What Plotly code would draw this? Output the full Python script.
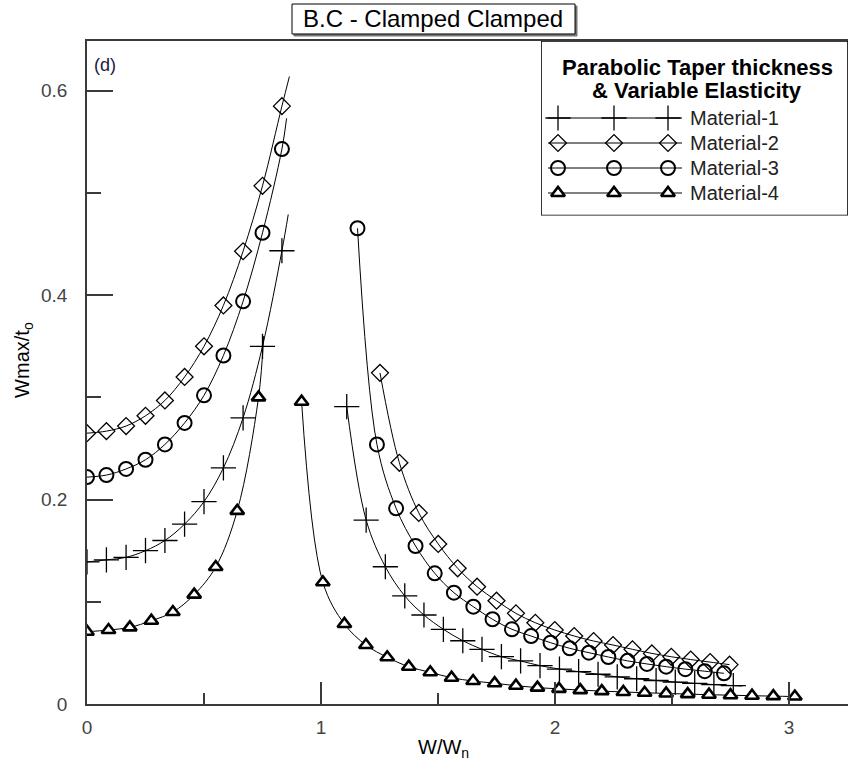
import plotly.graph_objects as go

# ---------------- data: W/Wn vs Wmax/to, clamped-clamped plate ----------------
# Material-1 (+)
m1_left_x = [0.0, 0.083, 0.167, 0.25, 0.333, 0.417, 0.5, 0.583, 0.667, 0.75, 0.833]
m1_left_y = [0.139, 0.141, 0.1435, 0.150, 0.160, 0.176, 0.198, 0.231, 0.280, 0.350, 0.4435]
m1_left_end = (0.860, 0.479)
m1_right_x = [1.110, 1.193, 1.275, 1.358, 1.440, 1.523, 1.606, 1.688, 1.771, 1.853, 1.936,
              2.019, 2.101, 2.184, 2.266, 2.349, 2.432, 2.514, 2.597, 2.679, 2.762]
m1_right_y = [0.291, 0.180, 0.1343, 0.1057, 0.0871, 0.0731, 0.0619, 0.0535, 0.0463, 0.0421, 0.0375,
              0.0342, 0.0316, 0.0291, 0.0265, 0.0247, 0.0230, 0.0215, 0.0202, 0.0190, 0.0180]
m1_right_end = (2.800, 0.0176)

# Material-2 (diamond)
m2_left_x = [0.0, 0.083, 0.167, 0.25, 0.333, 0.417, 0.5, 0.583, 0.667, 0.75, 0.833]
m2_left_y = [0.265, 0.267, 0.272, 0.282, 0.297, 0.320, 0.350, 0.390, 0.443, 0.507, 0.585]
m2_left_end = (0.865, 0.614)
m2_right_x = [1.252, 1.335, 1.418, 1.501, 1.584, 1.667, 1.750, 1.833, 1.916, 1.999,
              2.082, 2.165, 2.248, 2.331, 2.414, 2.497, 2.580, 2.663, 2.746]
m2_right_y = [0.324, 0.236, 0.187, 0.1566, 0.1328, 0.1148, 0.1011, 0.0887, 0.0795, 0.0724,
              0.0665, 0.0616, 0.0577, 0.0535, 0.0495, 0.0462, 0.0435, 0.0410, 0.0385]

# Material-3 (circle)
m3_left_x = [0.0, 0.083, 0.167, 0.25, 0.333, 0.417, 0.5, 0.583, 0.667, 0.75, 0.833]
m3_left_y = [0.222, 0.224, 0.230, 0.239, 0.254, 0.275, 0.302, 0.341, 0.394, 0.461, 0.543]
m3_left_end = (0.853, 0.573)
m3_right_x = [1.156, 1.239, 1.321, 1.404, 1.486, 1.568, 1.651, 1.733, 1.816, 1.898,
              1.981, 2.063, 2.145, 2.228, 2.310, 2.393, 2.475, 2.557, 2.640, 2.722]
m3_right_y = [0.4655, 0.254, 0.1915, 0.1546, 0.1279, 0.1089, 0.0952, 0.0829, 0.0731, 0.0665,
              0.0600, 0.0545, 0.0502, 0.0460, 0.0422, 0.0392, 0.0365, 0.0341, 0.0321, 0.0300]

# Material-4 (triangle)
m4_left_x = [0.0, 0.092, 0.183, 0.275, 0.367, 0.458, 0.550, 0.642, 0.733]
m4_left_y = [0.0707, 0.0724, 0.0750, 0.0815, 0.0900, 0.1070, 0.1340, 0.1890, 0.3000]
m4_left_end = (0.755, 0.360)
m4_right_x = [0.917, 1.008, 1.100, 1.192, 1.283, 1.375, 1.467, 1.558, 1.650, 1.742, 1.833, 1.925,
              2.017, 2.108, 2.200, 2.292, 2.383, 2.475, 2.567, 2.658, 2.750, 2.842, 2.933, 3.025]
m4_right_y = [0.2958, 0.1191, 0.0783, 0.0577, 0.0457, 0.0365, 0.0310, 0.0257, 0.0225, 0.0203,
              0.0179, 0.0160, 0.0148, 0.0136, 0.0126, 0.0118, 0.0110, 0.0103, 0.0097, 0.0091,
              0.0086, 0.0081, 0.0077, 0.0073]

x_major = [0, 1, 2, 3]
x_minor = [0.5, 1.5, 2.5]
y_major = [0, 0.2, 0.4, 0.6]
y_minor = [0.1, 0.3, 0.5]

materials = ["Material-1", "Material-2", "Material-3", "Material-4"]

FONT = "Liberation Sans, Arial, sans-serif"
INK = "#000000"

marker_styles = [
    dict(symbol="cross-thin", size=18, color=INK, line=dict(color=INK, width=1.3)),
    dict(symbol="diamond-open", size=13, color=INK, line=dict(color=INK, width=1.3)),
    dict(symbol="circle-open", size=14, color=INK, line=dict(color=INK, width=2)),
    dict(symbol="triangle-up", size=12, color="white", line=dict(color=INK, width=2.6)),
]

branches = [
    (0, m1_left_x, m1_left_y, m1_left_end),
    (0, m1_right_x, m1_right_y, m1_right_end),
    (1, m2_left_x, m2_left_y, m2_left_end),
    (1, m2_right_x, m2_right_y, None),
    (2, m3_left_x, m3_left_y, m3_left_end),
    (2, m3_right_x, m3_right_y, None),
    (3, m4_left_x, m4_left_y, m4_left_end),
    (3, m4_right_x, m4_right_y, None),
]

fig = go.Figure()

# smooth response curves (lines run a little past the last marker toward resonance)
for idx, bx, by, end in branches:
    lx, ly = list(bx), list(by)
    if end is not None:
        lx.append(end[0])
        ly.append(end[1])
    fig.add_trace(go.Scatter(x=lx, y=ly, mode="lines", showlegend=False, hoverinfo="skip",
                             line=dict(color=INK, width=1, shape="spline", smoothing=1.0)))
for idx, bx, by, end in branches:
    fig.add_trace(go.Scatter(x=bx, y=by, mode="markers", name=materials[idx], showlegend=False,
                             marker=marker_styles[idx]))

# ---------------- legend panel drawn on its own pixel-unit axes ----------------
leg_left, leg_right, leg_bottom, leg_top = 541, 848, 215.5, 41
leg_rows = [118, 143, 168, 193]
leg_line = (548, 682)
leg_marks = [558, 614, 668]
leg_text_x = 688

for i, row in enumerate(leg_rows):
    fig.add_trace(go.Scatter(x=list(leg_line), y=[row, row], mode="lines", xaxis="x2", yaxis="y2",
                             showlegend=False, hoverinfo="skip", line=dict(color=INK, width=1)))
    fig.add_trace(go.Scatter(x=leg_marks, y=[row] * len(leg_marks), mode="markers", xaxis="x2",
                             yaxis="y2", showlegend=False, hoverinfo="skip", marker=marker_styles[i]))

annotations = []
for name, row in zip(materials, leg_rows):
    annotations.append(dict(x=leg_text_x, y=row, xref="x2", yref="y2", text=name, showarrow=False,
                            xanchor="left", yanchor="middle",
                            font=dict(family=FONT, size=20, color="#222")))
annotations.append(dict(x=697, y=67, xref="x2", yref="y2", text="<b>Parabolic Taper thickness</b>",
                        showarrow=False, xanchor="center", yanchor="middle",
                        font=dict(family=FONT, size=22, color=INK)))
annotations.append(dict(x=697, y=90, xref="x2", yref="y2", text="<b>&amp; Variable Elasticity</b>",
                        showarrow=False, xanchor="center", yanchor="middle",
                        font=dict(family=FONT, size=22, color=INK)))

# chart title inside a framed box with a drop shadow
annotations.append(dict(x=0.4553, y=1.0332, xref="paper", yref="paper", text="B.C - Clamped Clamped",
                        showarrow=False, xanchor="center", yanchor="middle",
                        font=dict(family=FONT, size=24, color=INK)))

annotations.append(dict(x=0.0236, y=0.964, xref="paper", yref="paper", text="(d)", showarrow=False,
                        xanchor="center", yanchor="middle",
                        font=dict(family=FONT, size=18, color="#202040")))
annotations.append(dict(x=-0.0828, y=0.519, xref="paper", yref="paper", text="Wmax/t<sub>o</sub>",
                        showarrow=False, textangle=-90, xanchor="center", yanchor="middle",
                        font=dict(family=FONT, size=20, color=INK)))
annotations.append(dict(x=0.468, y=-0.0664, xref="paper", yref="paper", text="W/W<sub>n</sub>",
                        showarrow=False, xanchor="center", yanchor="middle",
                        font=dict(family=FONT, size=20, color=INK)))

shapes = [
    # title shadow and frame
    dict(type="rect", xref="paper", yref="paper", x0=0.2720, x1=0.6439, y0=1.0075, y1=1.0528,
         line=dict(color="#777", width=1), fillcolor="#777"),
    dict(type="rect", xref="paper", yref="paper", x0=0.2694, x1=0.6413, y0=1.0106, y1=1.0558,
         line=dict(color=INK, width=1), fillcolor="white"),
    # legend frame
    dict(type="rect", xref="x2", yref="y2", x0=leg_left, x1=leg_right, y0=leg_bottom, y1=leg_top,
         line=dict(color=INK, width=1.6), fillcolor="rgba(0,0,0,0)"),
]

AX = "#3a3a3a"
fig.update_layout(
    width=850, height=765,
    margin=dict(l=87, r=2, t=41, b=61),
    paper_bgcolor="white", plot_bgcolor="white",
    showlegend=False,
    font=dict(family=FONT, color=INK),
    annotations=annotations,
    shapes=shapes,
    xaxis=dict(range=[0, 761 / 234], showgrid=False, zeroline=False,
               showline=True, linecolor=AX, linewidth=1.5, mirror=True,
               tickmode="array", tickvals=x_major, ticktext=[str(v) for v in x_major],
               ticks="inside", ticklen=22, tickwidth=1.5, tickcolor=AX,
               ticklabelstandoff=5,
               tickfont=dict(family=FONT, size=19, color="#444"),
               minor=dict(tickmode="array", tickvals=x_minor, ticks="inside", ticklen=11,
                          tickwidth=1.5, tickcolor=AX)),
    yaxis=dict(range=[0, 663 / 1022], showgrid=False, zeroline=False,
               showline=True, linecolor=AX, linewidth=1.5,
               tickmode="array", tickvals=y_major, ticktext=["0", "0.2", "0.4", "0.6"],
               ticks="inside", ticklen=26, tickwidth=1.5, tickcolor=AX,
               ticklabelstandoff=14,
               tickfont=dict(family=FONT, size=19, color="#444"),
               minor=dict(tickmode="array", tickvals=y_minor, ticks="inside", ticklen=14,
                          tickwidth=1.5, tickcolor=AX)),
    xaxis2=dict(domain=[(leg_left - 87) / 761, 1.0], range=[leg_left, leg_right], anchor="y2",
                visible=False, fixedrange=True),
    yaxis2=dict(domain=[(704 - leg_bottom) / 663, 1.0], range=[leg_bottom, leg_top], anchor="x2",
                visible=False, fixedrange=True),
)

fig.write_html("out.html")
